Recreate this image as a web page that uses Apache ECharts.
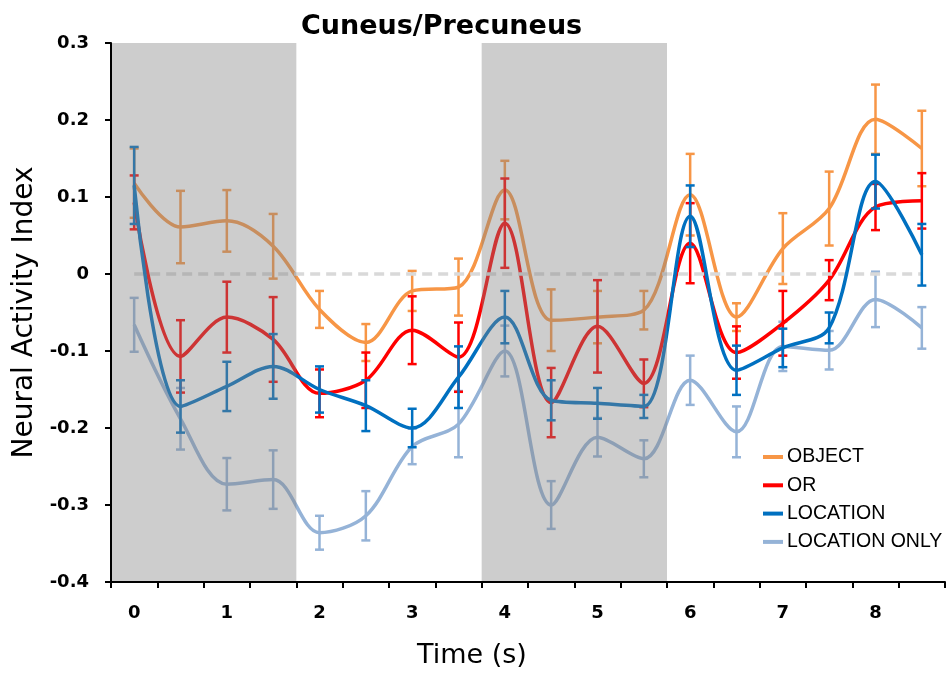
<!DOCTYPE html>
<html>
<head>
<meta charset="utf-8">
<title>Cuneus/Precuneus</title>
<script src="https://cdn.jsdelivr.net/npm/echarts@6/dist/echarts.min.js"></script>
<style>
  html, body { margin: 0; padding: 0; background: #fff; }
  #chart { width: 951px; height: 677px; }
</style>
</head>
<body>
<div id="chart"></div>
<script>
// Time bins (s)
const timeLabels = ['0', '0.5', '1', '1.5', '2', '2.5', '3', '3.5', '4', '4.5', '5', '5.5', '6', '6.5', '7', '7.5', '8', '8.5'];

// Mean neural activity index per condition
const objectMean   = [0.118, 0.061, 0.069, 0.036, -0.046, -0.089, -0.022, -0.017, 0.109, -0.060, -0.056, -0.047, 0.103, -0.056, 0.033, 0.085, 0.201, 0.163];
const orMean       = [0.093, -0.107, -0.056, -0.085, -0.155, -0.138, -0.073, -0.108, 0.066, -0.167, -0.068, -0.142, 0.040, -0.102, -0.064, -0.008, 0.087, 0.095];
const locationMean = [0.115, -0.172, -0.146, -0.120, -0.150, -0.171, -0.200, -0.134, -0.056, -0.164, -0.168, -0.172, 0.075, -0.125, -0.096, -0.070, 0.120, 0.025];
const locOnlyMean  = [-0.066, -0.188, -0.273, -0.267, -0.336, -0.314, -0.224, -0.195, -0.100, -0.300, -0.212, -0.240, -0.138, -0.205, -0.094, -0.099, -0.033, -0.070];

// Standard error per condition
const objectErr   = [0.045, 0.047, 0.040, 0.042, 0.024, 0.024, 0.026, 0.037, 0.038, 0.040, 0.034, 0.025, 0.053, 0.018, 0.046, 0.048, 0.045, 0.049];
const orErr       = [0.035, 0.047, 0.046, 0.055, 0.031, 0.036, 0.044, 0.045, 0.058, 0.045, 0.060, 0.031, 0.052, 0.034, 0.042, 0.026, 0.030, 0.036];
const locationErr = [0.050, 0.034, 0.032, 0.042, 0.030, 0.033, 0.025, 0.040, 0.034, 0.026, 0.020, 0.015, 0.040, 0.032, 0.025, 0.020, 0.035, 0.040];
const locOnlyErr  = [0.035, 0.040, 0.034, 0.038, 0.022, 0.032, 0.023, 0.043, 0.033, 0.031, 0.025, 0.024, 0.032, 0.033, 0.032, 0.025, 0.036, 0.027];

// Shaded task windows (s)
const shadeWindows = [[-0.25, 1.75], [3.75, 5.75]];

// Y axis ticks
const yTickLabels = ['-0.4', '-0.3', '-0.2', '-0.1', '0', '0.1', '0.2', '0.3'];
const yMin = -0.4, yMax = 0.3, yStep = 0.1;

const conditions = [
  { name: 'LOCATION ONLY', mean: locOnlyMean,  err: locOnlyErr,  color: '#95B3D7' },
  { name: 'OBJECT',        mean: objectMean,   err: objectErr,   color: '#F79646' },
  { name: 'OR',            mean: orMean,       err: orErr,       color: '#FF0000' },
  { name: 'LOCATION',      mean: locationMean, err: locationErr, color: '#0070C0' }
];

const labelFont = 'DejaVu Sans';

function errorBarRenderer(color) {
  return function (params, api) {
    const x = api.value(0);
    const top = api.coord([x, api.value(2)]);
    const bot = api.coord([x, api.value(1)]);
    const w = 4.5;
    const style = { stroke: color, lineWidth: 2.5 };
    return {
      type: 'group',
      children: [
        { type: 'line', shape: { x1: top[0], y1: top[1], x2: bot[0], y2: bot[1] }, style: style },
        { type: 'line', shape: { x1: top[0] - w, y1: top[1], x2: top[0] + w, y2: top[1] }, style: style },
        { type: 'line', shape: { x1: bot[0] - w, y1: bot[1], x2: bot[0] + w, y2: bot[1] }, style: style }
      ]
    };
  };
}

const series = [];

// zero reference line
series.push({
  type: 'line',
  xAxisIndex: 1,
  data: [],
  z: 1,
  silent: true,
  markLine: {
    silent: true,
    symbol: 'none',
    label: { show: false },
    lineStyle: { color: '#D9D9D9', width: 3.5, type: [10, 6] },
    data: [[{ coord: [0, 0] }, { coord: [8.5, 0] }]]
  }
});

conditions.forEach(function (c, k) {
  series.push({
    name: c.name + ' SE',
    type: 'custom',
    xAxisIndex: 0,
    z: 2 + k,
    silent: true,
    renderItem: errorBarRenderer(c.color),
    encode: { x: 0, y: [1, 2] },
    data: c.mean.map(function (m, i) { return [i, m - c.err[i], m + c.err[i]]; })
  });
  series.push({
    name: c.name,
    type: 'line',
    xAxisIndex: 0,
    z: 2 + k,
    smooth: 0.33,
    showSymbol: false,
    symbol: 'none',
    lineStyle: { color: c.color, width: 3.5 },
    itemStyle: { color: c.color },
    data: c.mean
  });
});

// translucent shading laid over the task windows
series.push({
  type: 'custom',
  xAxisIndex: 1,
  z: 20,
  silent: true,
  renderItem: function (params, api) {
    const p0 = api.coord([api.value(0), yMax]);
    const p1 = api.coord([api.value(1), yMin]);
    return {
      type: 'rect',
      shape: { x: p0[0], y: p0[1], width: p1[0] - p0[0], height: p1[1] - p0[1] },
      style: { fill: 'rgba(130,130,130,0.4)' }
    };
  },
  encode: { x: [0, 1] },
  data: shadeWindows
});

const chart = echarts.init(document.getElementById('chart'), null, { renderer: 'canvas' });
chart.setOption({
  animation: false,
  backgroundColor: '#fff',
  title: {
    text: 'Cuneus/Precuneus',
    left: 296,
    top: 8,
    textStyle: { fontFamily: labelFont, fontWeight: 'bold', fontSize: 27, color: '#000' }
  },
  legend: {
    orient: 'vertical',
    left: 763,
    top: 447,
    padding: 0,
    itemWidth: 20,
    itemHeight: 14,
    itemGap: 8.3,
    icon: 'path://M0,0H20V4H0Z',
    data: ['OBJECT', 'OR', 'LOCATION', 'LOCATION ONLY'],
    textStyle: { fontFamily: 'Liberation Sans', fontSize: 19.5, color: '#000', lineHeight: 20, padding: [0, 0, 0, -1] }
  },
  grid: { left: 111, right: 6, top: 43, bottom: 95, containLabel: false },
  xAxis: [{
    type: 'category',
    data: timeLabels,
    boundaryGap: true,
    z: 30,
    axisLine: { onZero: false, lineStyle: { color: '#000', width: 2 } },
    axisTick: { show: true, interval: 0, length: 6, lineStyle: { color: '#000', width: 2 } },
    axisLabel: { interval: 1, margin: 22, fontFamily: labelFont, fontWeight: 'bold', fontSize: 18, color: '#000' },
    splitLine: { show: false },
    name: 'Time (s)',
    nameLocation: 'middle',
    nameGap: 60,
    nameTextStyle: { fontFamily: labelFont, fontSize: 27, color: '#000', padding: [0, 112, 0, 0] }
  }, {
    type: 'value',
    min: -0.25,
    max: 8.75,
    show: false
  }],
  yAxis: {
    type: 'value',
    min: yMin,
    max: yMax,
    interval: yStep,
    z: 30,
    axisLine: { show: true, onZero: false, lineStyle: { color: '#000', width: 2 } },
    axisTick: { show: true, length: 6, lineStyle: { color: '#000', width: 2 } },
    axisLabel: {
      margin: 22,
      fontFamily: labelFont, fontWeight: 'bold', fontSize: 18, color: '#000',
      formatter: function (v) { return yTickLabels[Math.round((v - yMin) / yStep)]; }
    },
    splitLine: { show: false },
    name: 'Neural Activity Index',
    nameLocation: 'middle',
    nameGap: 72,
    nameTextStyle: { fontFamily: labelFont, fontSize: 28, color: '#000' }
  },
  series: series
});
</script>
</body>
</html>
